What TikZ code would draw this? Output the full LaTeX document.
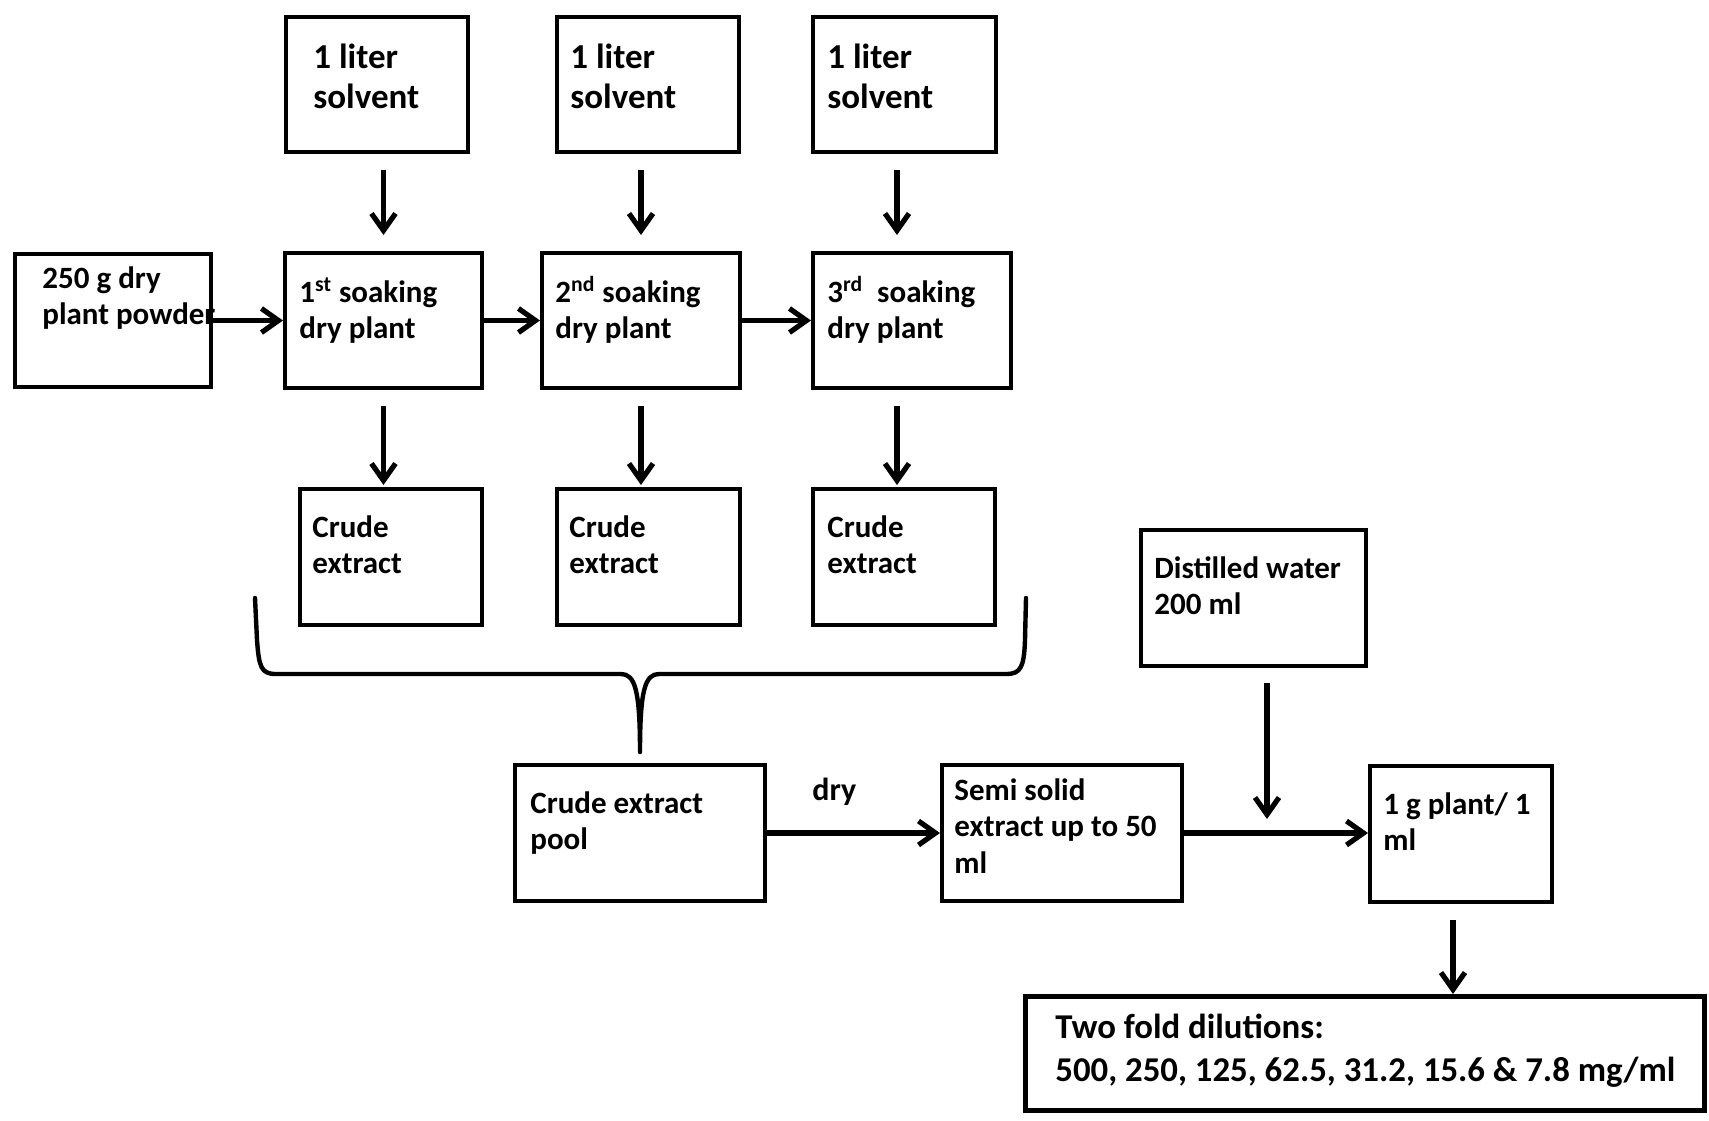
\documentclass[tikz,border=0pt]{standalone}
\usepackage{fontspec}
\setmainfont{Carlito}
\usetikzlibrary{arrows.meta,calc}
\newcommand{\lines}[1]{\begin{tabular}[t]{@{}l@{}}#1\end{tabular}}
\newcommand{\bx}[6][2pt]{\node[box, line width=#1, minimum width={(#4-#2)*0.5pt-#1}, minimum height={(#5-#3)*0.5pt-#1}] (#6) at ({(#2+#4)/2},{(#3+#5)/2}) {};}
\tikzset{
  box/.style={draw, inner sep=0pt},
  txt/.style={anchor=base west, inner sep=0pt, font=\bfseries\fontsize{15.5}{18.25}\selectfont},
  bigtxt/.style={font=\bfseries\fontsize{17.5}{20}\selectfont},
  hugetxt/.style={font=\bfseries\fontsize{17.4}{21.5}\selectfont},
  arr/.style={line width=2.6pt, -{Straight Barb[length=8.5pt,width=12pt]}},
  bracel/.style={line width=2.2pt, line cap=round, line join=round},
}
\begin{document}
\begin{tikzpicture}[x=0.5pt, y=-0.5pt]
\useasboundingbox (0,0) rectangle (1709,1120);
% boxes
\bx{284}{15}{470}{154}{solA}
\bx{555}{15}{741}{154}{solB}
\bx{811}{15}{998}{154}{solC}
\bx{13}{252}{213}{389}{powder}
\bx{283}{251}{484}{390}{s1}
\bx{540}{251}{742}{390}{s2}
\bx{811}{251}{1013}{390}{s3}
\bx{298}{487}{484}{627}{c1}
\bx{555}{487}{742}{627}{c2}
\bx{811}{487}{997}{627}{c3}
\bx{513}{763}{767}{903}{pool}
\bx{940}{763}{1184}{903}{semi}
\bx{1139}{528}{1368}{668}{dist}
\bx{1368}{764}{1554}{904}{oneg}
\bx[2.5pt]{1023}{994}{1707}{1113}{two}
% texts
\node[txt,bigtxt] (tsolA) at (313,68) {\lines{1 liter\\solvent}};
\node[txt,bigtxt] (tsolB) at (570,68) {\lines{1 liter\\solvent}};
\node[txt,bigtxt] (tsolC) at (827,68) {\lines{1 liter\\solvent}};
\node[txt] (tpowder) at (42,288) {\lines{250 g dry\\plant powder}};
\node[txt] (ts1) at (299,302) {\lines{1\textsuperscript{st} soaking\\dry plant}};
\node[txt] (ts2) at (555,302) {\lines{2\textsuperscript{nd} soaking\\dry plant}};
\node[txt] (ts3) at (827,302) {\lines{3\textsuperscript{rd}~ soaking\\dry plant}};
\node[txt] (tc1) at (312,537) {\lines{Crude\\extract}};
\node[txt] (tc2) at (569,537) {\lines{Crude\\extract}};
\node[txt] (tc3) at (827,537) {\lines{Crude\\extract}};
\node[txt] (tpool) at (530,813) {\lines{Crude extract\\pool}};
\node[txt] (tsemi) at (954,800) {\lines{Semi solid\\extract up to 50\\ml}};
\node[txt] (tdist) at (1154,578) {\lines{Distilled water\\200 ml}};
\node[txt] (toneg) at (1383,814) {\lines{1 g plant/ 1\\ml}};
\node[txt,hugetxt] (ttwo) at (1055,1038) {\lines{Two fold dilutions:\\500, 250, 125, 62.5, 31.2, 15.6 \& 7.8 mg/ml}};
\node[txt,font=\bfseries\fontsize{16}{19}\selectfont] (tdry) at (812,800) {dry};
% solvent arrows
\draw[arr, shorten <=8pt, shorten >=8pt] (solA.south -| s1.north) -- (s1.north);
\draw[arr, shorten <=8pt, shorten >=8pt] (solB.south -| s2.north) -- (s2.north);
\coordinate (s3n) at ($(s3.north)+(-15,0)$);
\coordinate (s3s) at ($(s3.south)+(-15,0)$);
\draw[arr, shorten <=8pt, shorten >=8pt] (solC.south -| s3n) -- (s3n);
% soaking chain
\draw[arr] (powder.east) -- (s1.west);
\draw[arr] (s1.east) -- (s2.west);
\draw[arr] (s2.east) -- (s3.west);
% crude arrows
\draw[arr, shorten <=8pt, shorten >=1pt] (s1.south) -- (s1.south |- c1.north);
\draw[arr, shorten <=8pt, shorten >=1pt] (s2.south) -- (s2.south |- c2.north);
\draw[arr, shorten <=8pt, shorten >=1pt] (s3s) -- (s3s |- c3.north);
% brace
\draw[bracel] (255,598) -- (257,640) .. controls (259,667) and (261,674) .. (276,674)
  -- (621,674) .. controls (635,674) and (640,690) .. (640,752)
  .. controls (640,690) and (645,674) .. (659,674)
  -- (1006,674) .. controls (1021,674) and (1024,667) .. (1025,640) -- (1026,598);
% lower chain
\draw[arr] (pool.east) -- (pool.east -| semi.west);
\draw[arr] (semi.east) -- (semi.east -| oneg.west);
\coordinate (dtop) at ($(dist.south)+(13.5,0)$);
\coordinate (mix) at (dtop |- semi.east);
\draw[arr, shorten <=7.5pt, shorten >=7pt] (dtop) -- (mix);
\coordinate (obot) at ($(oneg.south)+(-8,0)$);
\draw[arr, shorten <=8pt] (obot) -- (obot |- two.north);
\end{tikzpicture}
\end{document}
